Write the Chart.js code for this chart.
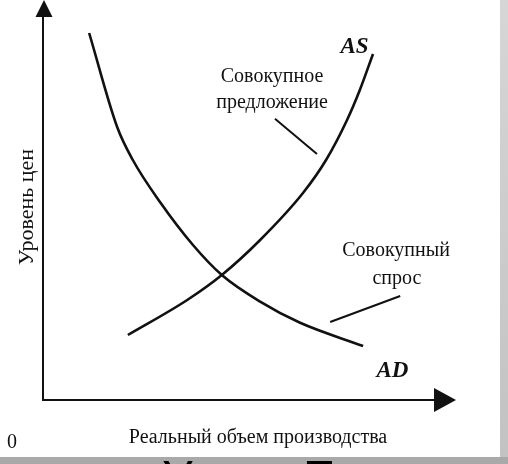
<!DOCTYPE html>
<html>
<head>
<meta charset="utf-8">
<script src="https://cdn.jsdelivr.net/npm/chart.js@4.4.1/dist/chart.umd.min.js"></script>
<style>
  html, body { margin: 0; padding: 0; background: #fff; }
  canvas { display: block; }
</style>
</head>
<body>
<canvas id="chart" width="508" height="464"></canvas>
<script>
// кривая совокупного спроса AD (убывает)
const adX = [11.2, 18.0, 21.8, 28.4, 36.4, 43.4, 52.7, 62.4, 77.7];
const adY = [91.75, 68.25, 60, 49.5, 38.75, 31.25, 24.6, 19.3, 13.5];

// кривая совокупного предложения AS (возрастает)
const asX = [20.6, 35.0, 43.4, 52.7, 63.1, 68.7, 73.8, 76.9, 80.1];
const asY = [16.25, 25, 31.25, 40, 51.75, 60, 70, 77.5, 86.5];

// линии-выноски к подписям
const supplyPtrX = [56.3, 66.5];
const supplyPtrY = [70.3, 61.5];
const demandPtrX = [69.7, 86.7];
const demandPtrY = [19.5, 26];

const toPoints = (xs, ys) => xs.map((x, i) => ({ x: x, y: ys[i] }));

const serif = '"Liberation Serif", "DejaVu Serif", serif';

// фон слайда, оси со стрелками и подписи
const decorPlugin = {
  id: 'decor',
  beforeDraw(chart) {
    const ctx = chart.ctx;
    ctx.save();
    ctx.fillStyle = '#ffffff';
    ctx.fillRect(0, 0, chart.width, chart.height);
    // серая полоса справа
    const g = ctx.createLinearGradient(0, 0, 0, chart.height);
    g.addColorStop(0, '#d6d6d6');
    g.addColorStop(1, '#c2c2c2');
    ctx.fillStyle = g;
    ctx.fillRect(500, 0, 8, chart.height);
    // нижняя полоса с крупным заголовком
    ctx.fillStyle = '#a9a9a9';
    ctx.fillRect(0, 457, chart.width, 7);
    ctx.fillStyle = '#000';
    ctx.font = '48px "Liberation Sans", Arial, sans-serif';
    ctx.textBaseline = 'alphabetic';
    ctx.textAlign = 'left';
    ctx.fillText('У', 162, 494);
    ctx.fillText('Е', 303, 494);
    ctx.restore();
  },
  beforeDatasetsDraw(chart) {
    const ctx = chart.ctx;
    const x = chart.scales.x, y = chart.scales.y;
    const x0 = x.getPixelForValue(0), y0 = y.getPixelForValue(0);
    const xEnd = x.getPixelForValue(100), yEnd = y.getPixelForValue(100);
    ctx.save();
    ctx.strokeStyle = '#111';
    ctx.fillStyle = '#111';
    ctx.lineWidth = 2;
    ctx.beginPath();
    ctx.moveTo(x0, yEnd + 14);
    ctx.lineTo(x0, y0);
    ctx.lineTo(xEnd - 18, y0);
    ctx.stroke();
    // стрелка оси Y
    ctx.beginPath();
    ctx.moveTo(x0 + 1, yEnd);
    ctx.lineTo(x0 - 7.5, yEnd + 17);
    ctx.lineTo(x0 + 9.5, yEnd + 17);
    ctx.closePath();
    ctx.fill();
    // стрелка оси X
    ctx.beginPath();
    ctx.moveTo(xEnd + 1, y0);
    ctx.lineTo(xEnd - 21, y0 - 12);
    ctx.lineTo(xEnd - 21, y0 + 12);
    ctx.closePath();
    ctx.fill();
    ctx.restore();
  },
  afterDraw(chart) {
    const ctx = chart.ctx;
    const x = chart.scales.x, y = chart.scales.y;
    const put = (text, vx, vy, font) => {
      ctx.font = font;
      ctx.fillText(text, x.getPixelForValue(vx), y.getPixelForValue(vy));
    };
    ctx.save();
    ctx.fillStyle = '#111';
    ctx.textAlign = 'center';
    ctx.textBaseline = 'alphabetic';
    const f = '20px ' + serif;
    put('Совокупное', 55.6, 79.5, f);
    put('предложение', 55.6, 73, f);
    put('Совокупный', 85.7, 36, f);
    put('спрос', 85.9, 29, f);
    put('AS', 75.6, 86.75, 'italic bold 23px ' + serif);
    put('AD', 84.8, 5.75, 'italic bold 23px ' + serif);

    // подписи осей
    ctx.font = f;
    ctx.fillText('0', 12, 448);
    ctx.fillText('Реальный объем производства', 258, 443);
    ctx.translate(33, 207);
    ctx.rotate(-Math.PI / 2);
    ctx.font = '22px ' + serif;
    ctx.fillText('Уровень цен', 0, 0);
    ctx.restore();
  }
};

const lineStyle = {
  showLine: true,
  borderColor: '#111',
  pointRadius: 0,
  fill: false,
  clip: false
};

new Chart(document.getElementById('chart'), {
  type: 'scatter',
  data: {
    datasets: [
      Object.assign({ label: 'AD', data: toPoints(adX, adY), borderWidth: 2.6, cubicInterpolationMode: 'monotone' }, lineStyle),
      Object.assign({ label: 'AS', data: toPoints(asX, asY), borderWidth: 2.6, cubicInterpolationMode: 'monotone' }, lineStyle),
      Object.assign({ label: 'ptr1', data: toPoints(supplyPtrX, supplyPtrY), borderWidth: 2 }, lineStyle),
      Object.assign({ label: 'ptr2', data: toPoints(demandPtrX, demandPtrY), borderWidth: 2 }, lineStyle)
    ]
  },
  options: {
    responsive: false,
    animation: false,
    layout: { padding: { left: 43, right: 53, top: 0, bottom: 64 } },
    scales: {
      x: { type: 'linear', min: 0, max: 100, display: false },
      y: { type: 'linear', min: 0, max: 100, display: false }
    },
    plugins: {
      legend: { display: false },
      tooltip: { enabled: false }
    }
  },
  plugins: [decorPlugin]
});
</script>
</body>
</html>
